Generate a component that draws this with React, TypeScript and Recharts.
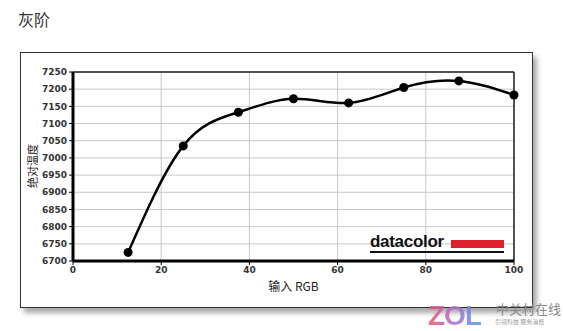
import { LineChart, Line, XAxis, YAxis, CartesianGrid, ReferenceLine, Label } from 'recharts';

const inputRgb = [12.5, 25, 37.5, 50, 62.5, 75, 87.5, 100];
const colorTemp = [6725, 7035, 7133, 7172, 7160, 7205, 7224, 7183];
const xTicks = [0, 20, 40, 60, 80, 100];
const yTicks = [6700, 6750, 6800, 6850, 6900, 6950, 7000, 7050, 7100, 7150, 7200, 7250];

const data = inputRgb.map((x, i) => ({ x, temp: colorTemp[i] }));

const tickFont = { fontFamily: 'DejaVu Sans', fontSize: 9, fill: '#333', fontWeight: 'bold' as const };

export default function App() {
  return (
    <div style={{ position: 'fixed', left: 0, top: 0, width: 563, height: 331, background: '#fff', overflow: 'hidden' }}>
      <div
        style={{
          position: 'absolute',
          left: 18,
          top: 7,
          fontFamily: '"Noto Sans CJK SC"',
          fontSize: 16,
          color: '#333',
        }}
      >
        灰阶
      </div>

      <div
        style={{
          position: 'absolute',
          left: 20,
          top: 52,
          width: 511,
          height: 254,
          border: '1.5px solid #333',
          boxShadow: '4px 5px 5px #aaa',
          background: '#fff',
        }}
      />

      <div style={{ position: 'absolute', left: 20, top: 52 }}>
        <LineChart width={512} height={255} data={data} margin={{ top: 20, right: 18, bottom: 0, left: 0 }}>
          <CartesianGrid stroke="#c8c8c8" strokeWidth={1} />
          <XAxis
            dataKey="x"
            type="number"
            domain={[0, 100]}
            ticks={xTicks}
            height={46}
            stroke="#000"
            strokeWidth={3}
            tickSize={4}
            tick={tickFont}
            tickLine={{ stroke: '#000', strokeWidth: 1 }}
          >
            <Label
              value="输入 RGB"
              position="insideBottom"
              offset={16}
              style={{ fontFamily: '"Noto Sans CJK SC"', fontSize: 12, fill: '#222' }}
            />
          </XAxis>
          <YAxis
            type="number"
            domain={[6700, 7250]}
            ticks={yTicks}
            width={53}
            stroke="#000"
            strokeWidth={3}
            tickSize={4}
            tick={tickFont}
            tickLine={{ stroke: '#000', strokeWidth: 1 }}
            interval={0}
          />
          <ReferenceLine y={7250} stroke="#222" strokeWidth={1.5} />
          <ReferenceLine x={100} stroke="#222" strokeWidth={1.5} />
          <Line
            type="natural"
            dataKey="temp"
            stroke="#000"
            strokeWidth={2.5}
            dot={{ r: 4.5, fill: '#000', stroke: '#000', strokeWidth: 0 }}
            isAnimationActive={false}
          />
        </LineChart>
      </div>

      {/* y axis title, rotated */}
      <div
        style={{
          position: 'absolute',
          left: 32,
          top: 166,
          transform: 'translate(-50%, -50%) rotate(-90deg)',
          fontFamily: '"Noto Sans CJK SC"',
          fontSize: 11,
          color: '#222',
          whiteSpace: 'nowrap',
          lineHeight: 1,
        }}
      >
        绝对温度
      </div>

      <div style={{ position: 'absolute', left: 370, top: 232 }}>
        <span
          style={{
            fontFamily: '"Liberation Sans"',
            fontWeight: 'bold',
            fontSize: 17,
            color: '#111',
            letterSpacing: -0.3,
          }}
        >
          datacolor
        </span>
      </div>
      <div style={{ position: 'absolute', left: 451, top: 240, width: 53, height: 8, background: '#e0202c' }} />
      <div style={{ position: 'absolute', left: 370, top: 251, width: 134, height: 1.5, background: '#111' }} />

      <div
        style={{
          position: 'absolute',
          left: 428,
          top: 300,
          fontFamily: '"Liberation Sans"',
          fontWeight: 'bold',
          fontSize: 28,
          letterSpacing: -1,
          background: 'linear-gradient(90deg, #f0506a, #b06ad0, #4a9af0)',
          WebkitBackgroundClip: 'text',
          color: 'transparent',
          opacity: 0.85,
        }}
      >
        ZOL
      </div>
      <div
        style={{
          position: 'absolute',
          left: 496,
          top: 299,
          fontFamily: '"Noto Sans CJK SC"',
          fontSize: 13,
          color: '#888',
          whiteSpace: 'nowrap',
        }}
      >
        中关村在线
      </div>
      <div
        style={{
          position: 'absolute',
          left: 495,
          top: 317,
          fontFamily: '"Noto Sans CJK SC"',
          fontSize: 6,
          color: '#999',
          whiteSpace: 'nowrap',
        }}
      >
        引领科技 服务消费
      </div>
    </div>
  );
}
